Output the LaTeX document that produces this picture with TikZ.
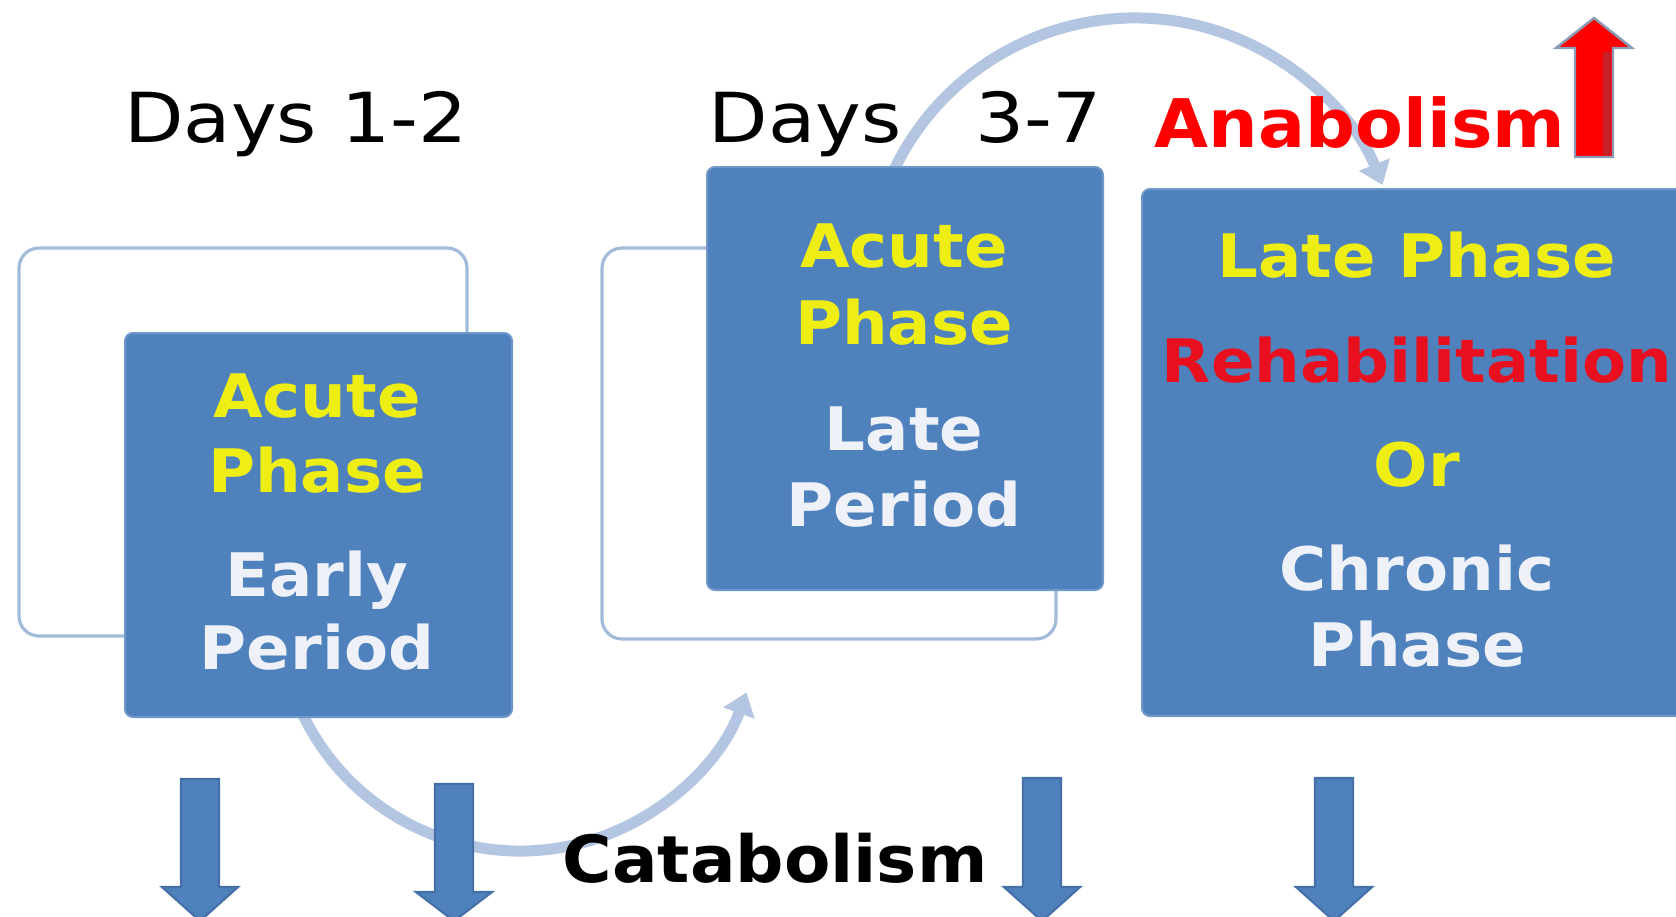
\documentclass[tikz,border=0pt]{standalone}
\usepackage{fontspec}
\newfontfamily\hdfont{DejaVu Sans}[FakeStretch=1.04]
\newfontfamily\dayfont{DejaVu Sans}[FakeStretch=1.12]
\newfontfamily\bxfont{DejaVu Sans}[FakeStretch=1.07]
\usetikzlibrary{arrows.meta}
\definecolor{boxblue}{HTML}{4F81BD}
\definecolor{boxedge}{HTML}{7097CA}
\definecolor{outl}{HTML}{A3BBDB}
\definecolor{arcc}{HTML}{B3C5E0}
\definecolor{yel}{HTML}{EEEE14}
\definecolor{wht}{HTML}{EEF2F8}
\definecolor{redt}{HTML}{E8101E}
\definecolor{arrline}{HTML}{4670A8}
\definecolor{redline}{HTML}{8A9BB8}
\definecolor{darkred}{HTML}{C81E2A}
\newcommand\dnarrow[3]{% cx, top, head base
  \draw[downarr] (#1-19,-#2) -- (#1+19,-#2) -- (#1+19,-#3) -- (#1+38,-#3)
    -- (#1,-921) -- (#1-38,-#3) -- (#1-19,-#3) -- cycle;}
\begin{document}
\begin{tikzpicture}[x=0.5pt,y=0.5pt,
  outlinebox/.style={draw=outl, line width=1.6pt, rounded corners=10pt,
    anchor=north west, inner sep=0pt, outer sep=0pt},
  phasebox/.style={fill=boxblue, draw=boxedge, line width=1pt, rounded corners=4pt,
    anchor=north west, inner sep=0pt, outer sep=0pt},
  cyclearc/.style={draw=arcc, line width=5.5pt, -{Triangle[width=16pt,length=11pt]}},
  downarr/.style={fill=boxblue, draw=arrline, line width=1.1pt, line join=miter},
  redarr/.style={fill=red, draw=redline, line width=1.2pt},
  hd/.style={font=\hdfont\bfseries\fontsize{34.5}{40}\selectfont, inner sep=0pt, anchor=base},
  dayhd/.style={font=\dayfont\fontsize{34.5}{40}\selectfont, inner sep=0pt, anchor=base},
  bx/.style={font=\bxfont\bfseries\fontsize{30}{36}\selectfont, inner sep=0pt, anchor=base},
  ylw/.style={bx, text=yel},
  wtx/.style={bx, text=wht},
  rtx/.style={bx, text=redt}]
\clip (0,0) rectangle (1676,-916);
\fill[white] (0,0) rectangle (1676,-916);

% outline (back) boxes
\node[outlinebox, minimum width=224pt, minimum height=194pt] (ob1) at (19,-248) {};
\node[outlinebox, minimum width=227pt, minimum height=195.5pt] (ob2) at (602,-248) {};

% cycle arcs
\coordinate (uc) at (1135,-285);
\coordinate (lc) at (520,-610);
\draw[cyclearc] ([shift={(157:133.5pt)}]uc) arc[start angle=157, end angle=22, radius=133.5pt];
\draw[cyclearc] ([shift={(200:120.5pt)}]lc) arc[start angle=200, end angle=340, radius=120.5pt];

% phase boxes
\node[phasebox, minimum width=193.5pt, minimum height=192pt] (fb1) at (125,-333) {};
\node[phasebox, minimum width=198pt, minimum height=211.5pt] (fb2) at (707,-167) {};
\node[phasebox, minimum width=279pt, minimum height=263.5pt] (fb3) at (1142,-189) {};

% down arrows
\dnarrow{200}{779}{887}
\dnarrow{454}{784}{892}
\dnarrow{1042}{778}{887}
\dnarrow{1334}{778}{887}

% red up arrow
\draw[redarr] (1575,-157) -- (1575,-48) -- (1556,-48) -- (1594,-18) -- (1632,-48)
  -- (1613,-48) -- (1613,-157) -- cycle;
\fill[darkred] (1603,-52) rectangle (1611,-155);

% headings
\node[dayhd] (d12) at (296,-142) {Days 1-2};
\node[dayhd] (d37) at (905,-142) {Days~~~3-7};
\node[hd, text=red, font=\hdfont\bfseries\fontsize{33.5}{40}\selectfont] (ana) at (1360,-147) {Anabolism};
\node[hd, font=\hdfont\bfseries\fontsize{32.5}{40}\selectfont] (cata) at (775,-882) {Catabolism};

% box 1 text
\node[ylw] (b1a) at (317,-417) {Acute};
\node[ylw] (b1b) at (317,-492) {Phase};
\node[wtx] (b1c) at (317,-596) {Early};
\node[wtx] (b1d) at (317,-669) {Period};
% box 2 text
\node[ylw] (b2a) at (904,-267) {Acute};
\node[ylw] (b2b) at (904,-344) {Phase};
\node[wtx] (b2c) at (904,-450) {Late};
\node[wtx] (b2d) at (904,-526) {Period};
% box 3 text
\node[ylw] (b3a) at (1417,-277) {Late Phase};
\node[rtx] (b3b) at (1417,-382) {Rehabilitation};
\node[ylw] (b3c) at (1417,-486) {Or};
\node[wtx] (b3d) at (1417,-590) {Chronic};
\node[wtx] (b3e) at (1417,-666) {Phase};
\end{tikzpicture}
\end{document}
